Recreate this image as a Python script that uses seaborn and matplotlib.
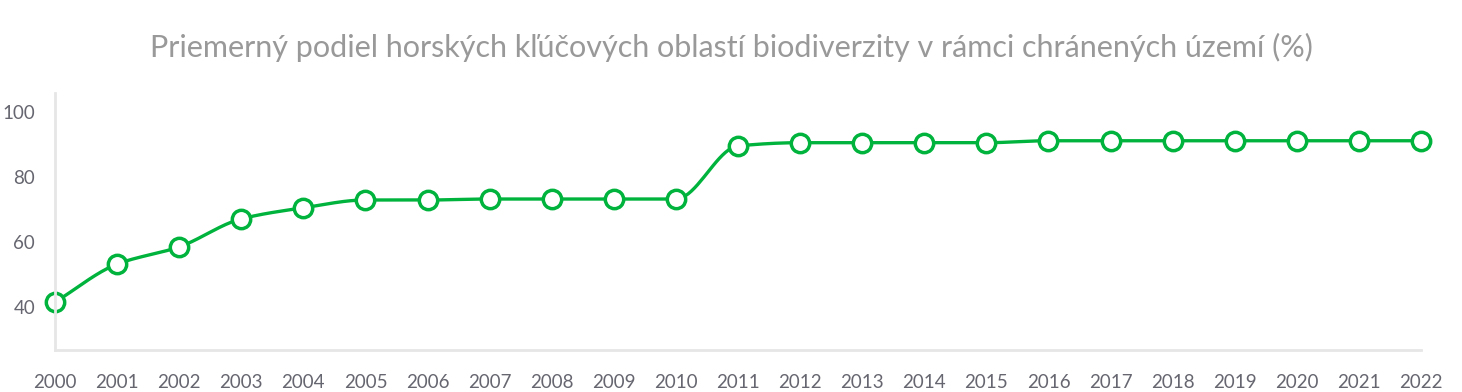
import numpy as np
import pandas as pd
import seaborn as sns
import matplotlib
matplotlib.use("Agg")
import matplotlib.pyplot as plt

# Data
YEARS = list(range(2000, 2023))
VALUES = [41.5, 53.2, 58.5, 67.1, 70.5, 72.9, 72.9, 73.2, 73.2, 73.2, 73.2,
          89.5, 90.5, 90.5, 90.5, 90.5, 91.1, 91.1, 91.1, 91.1, 91.1, 91.1, 91.1]
Y_TICKS = [40, 60, 80, 100]
TITLE = "Priemerný podiel horských kľúčových oblastí biodiverzity v rámci chránených území (%)"

GREEN = "#00b33c"
GRID_GREY = "#e6e6e6"
LABEL_GREY = "#666670"


def monotone_curve(x, y, n=20):
    """Smooth rendering of the line (Fritsch-Carlson monotone cubic)."""
    x = np.asarray(x, float)
    y = np.asarray(y, float)
    h = np.diff(x)
    d = np.diff(y) / h
    m = np.zeros_like(y)
    m[0], m[-1] = d[0], d[-1]
    for i in range(1, len(y) - 1):
        if d[i - 1] * d[i] <= 0:
            m[i] = 0
        else:
            w1 = 2 * h[i] + h[i - 1]
            w2 = h[i] + 2 * h[i - 1]
            m[i] = (w1 + w2) / (w1 / d[i - 1] + w2 / d[i])
    xs, ys = [], []
    for i in range(len(x) - 1):
        t = np.linspace(0, 1, n, endpoint=False)
        h00 = 2 * t**3 - 3 * t**2 + 1
        h10 = t**3 - 2 * t**2 + t
        h01 = -2 * t**3 + 3 * t**2
        h11 = t**3 - t**2
        xs.append(x[i] + t * h[i])
        ys.append(h00 * y[i] + h10 * h[i] * m[i] + h01 * y[i + 1] + h11 * h[i] * m[i + 1])
    xs.append([x[-1]])
    ys.append([y[-1]])
    return np.concatenate(xs), np.concatenate(ys)


sns.set_style("white")
plt.rcParams["font.family"] = ["Lato", "DejaVu Sans"]

fig = plt.figure(figsize=(14.62, 3.92), dpi=100)
ax = fig.add_axes([0.0376, 0.107, 0.9344, 0.656])

df = pd.DataFrame({"year": YEARS, "value": VALUES})
cx, cy = monotone_curve(df["year"], df["value"])
sns.lineplot(x=cx, y=cy, ax=ax, color=GREEN, linewidth=2.4, zorder=2)
sns.scatterplot(data=df, x="year", y="value", ax=ax, s=175, color="white",
                edgecolor=GREEN, linewidth=2.5, zorder=3, clip_on=False)

ax.set_xlim(2000, 2022)
ax.set_ylim(26.8, 105.8)
ax.set_xticks(YEARS)
ax.set_xticklabels([str(y) for y in YEARS])
ax.set_yticks(Y_TICKS)
ax.set_xlabel("")
ax.set_ylabel("")

for side in ["top", "right"]:
    ax.spines[side].set_visible(False)
for side in ["left", "bottom"]:
    ax.spines[side].set_color(GRID_GREY)
    ax.spines[side].set_linewidth(2)
    ax.spines[side].set_zorder(4)

ax.tick_params(axis="both", direction="inout", length=14.4, width=1.5,
               color=GRID_GREY, labelcolor=LABEL_GREY, labelsize=13.5)
ax.tick_params(axis="x", pad=10)
ax.tick_params(axis="y", pad=7)

fig.text(0.5, 0.88, TITLE, ha="center", va="center", fontsize=22, color="#999999")

fig.savefig("out.png", dpi=100)
